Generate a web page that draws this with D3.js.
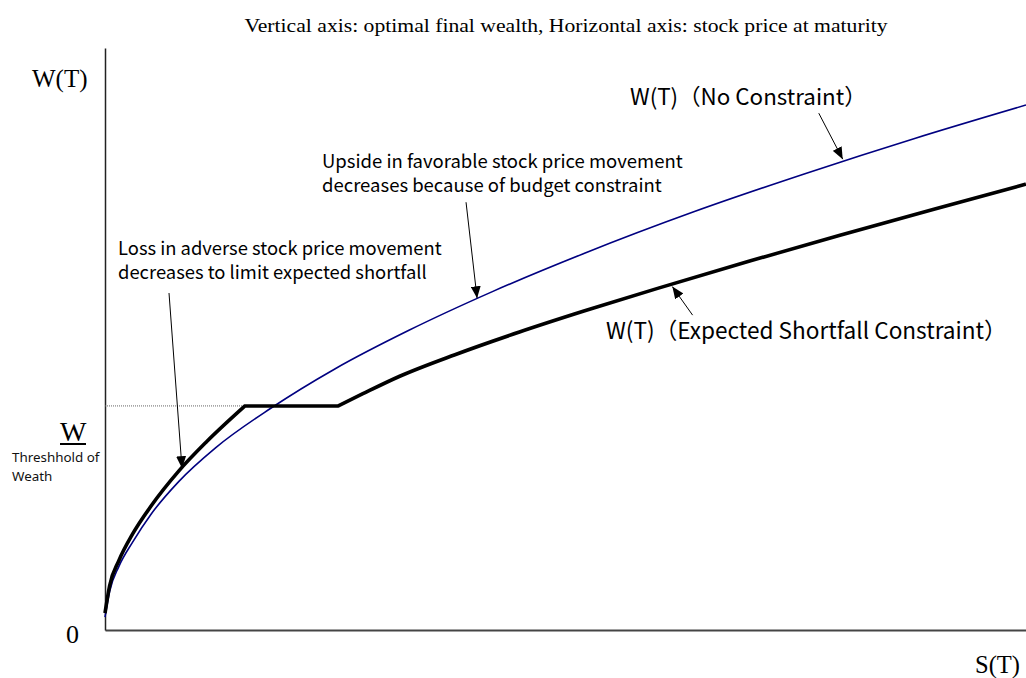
<!DOCTYPE html>
<html>
<head>
<meta charset="utf-8">
<script src="https://cdn.jsdelivr.net/npm/d3@7"></script>
<style>
  html, body { margin: 0; padding: 0; background: #fff; }
  svg { display: block; }
</style>
</head>
<body>
<div id="container"></div>
<script>
// stock price at maturity S(T) on 0..100, wealth W(T) on 0..100 (no units, it is a sketch)
const blueS = [0, 0.5, 1.5, 3, 5, 8, 12, 18, 25, 33, 42, 52, 64, 76, 88, 100]
const blueW = [2.2, 6.6, 10.9, 15.1, 19.9, 25.5, 31.3, 38.1, 44.9, 51.5, 58.1, 64.7, 71.9, 78.4, 84.5, 90.2]

// expected shortfall constraint: rises, sits on the threshold, rises again
const blackLeftS = [0, 0.5, 1.5, 3, 5, 8, 11, 15.2]
const blackLeftW = [2.9, 7.6, 11.9, 16.5, 21.3, 27.3, 32.3, 38.5]
const blackFlatS = [15.2, 25.3]
const blackFlatW = [38.5, 38.5]
const blackRightS = [25.3, 28, 32, 38, 45, 52, 60, 70, 80, 90, 100]
const blackRightW = [38.5, 40.6, 43.6, 47.3, 51.2, 54.8, 58.7, 63.4, 67.9, 72.3, 76.6]

const thresholdW = 38.5

// arrows: [fromS, fromW, toS, toW]
const arrows = [
  [77.5, 88.8, 80.1, 80.9],
  [39.2, 73.5, 40.4, 57.0],
  [6.95, 57.9, 8.36, 27.8],
  [63.8, 54.1, 61.6, 59.0]
]

const labelLines = [
  ['W(T)（No Constraint）'],
  ['Upside in favorable stock price movement', 'decreases because of budget constraint'],
  ['Loss in adverse stock price movement', 'decreases to limit expected shortfall'],
  ['W(T)（Expected Shortfall Constraint）']
]
// label anchor [S, W] of first baseline
const labelPos = [[57.0, 90.2], [23.56, 79.4], [1.41, 64.4], [54.4, 50.0]]
const labelSize = [22.4, 18.5, 18.4, 22.6]

const title = 'Vertical axis: optimal final wealth,  Horizontal axis: stock price at maturity'

const width = 1026
const height = 678

let svg = d3.select('#container')
  .append('svg')
  .attr('xmlns', 'http://www.w3.org/2000/svg')
  .attr('width', width)
  .attr('height', height)

let x = d3.scaleLinear().domain([0, 100]).range([105, 1026])
let y = d3.scaleLinear().domain([0, 100]).range([630, 48])

svg.append('defs').append('marker')
  .attr('id', 'head')
  .attr('markerUnits', 'userSpaceOnUse')
  .attr('viewBox', '0 0 12 10')
  .attr('refX', 12)
  .attr('refY', 5)
  .attr('markerWidth', 12)
  .attr('markerHeight', 10)
  .attr('orient', 'auto')
  .append('path')
  .attr('d', 'M0,0L12,5L0,10Z')
  .attr('fill', '#000')

// axes, no ticks
let xAxis = svg.append('g')
  .attr('transform', `translate(0,${y(0)})`)
  .call(d3.axisBottom(x).ticks(0).tickSizeOuter(0))
let yAxis = svg.append('g')
  .attr('transform', `translate(${x(0)},0)`)
  .call(d3.axisLeft(y).ticks(0).tickSizeOuter(0))
xAxis.select('.domain').attr('stroke', '#444').attr('stroke-width', 2)
yAxis.select('.domain').attr('stroke', '#222').attr('stroke-width', 1.5)

// threshold guide
svg.append('line')
  .attr('x1', x(0)).attr('x2', x(blackFlatS[0]))
  .attr('y1', y(thresholdW)).attr('y2', y(thresholdW))
  .attr('stroke', '#666')
  .attr('stroke-width', 1)
  .attr('stroke-dasharray', '1,1')

let line = d3.line()
  .x(d => x(d[0]))
  .y(d => y(d[1]))
  .curve(d3.curveMonotoneX)

svg.append('path')
  .datum(d3.zip(blueS, blueW))
  .attr('d', line)
  .attr('fill', 'none')
  .attr('stroke', '#000080')
  .attr('stroke-width', 1.6)

// three pieces joined into one path so the corners stay sharp
let pieces = [
  d3.zip(blackLeftS, blackLeftW),
  d3.zip(blackFlatS, blackFlatW),
  d3.zip(blackRightS, blackRightW)
].map(seg => line(seg))
let blackPath = pieces[0] + pieces.slice(1).map(p => 'L' + p.slice(1)).join('')

svg.append('path')
  .attr('d', blackPath)
  .attr('fill', 'none')
  .attr('stroke', '#000')
  .attr('stroke-width', 3.6)
  .attr('stroke-linejoin', 'miter')

// arrows
svg.selectAll('.arrow')
  .data(arrows)
  .enter().append('line')
  .attr('class', 'arrow')
  .attr('x1', d => x(d[0])).attr('y1', d => y(d[1]))
  .attr('x2', d => x(d[2])).attr('y2', d => y(d[3]))
  .attr('stroke', '#000')
  .attr('stroke-width', 1)
  .attr('marker-end', 'url(#head)')

// annotation texts
svg.selectAll('.note')
  .data(labelLines)
  .enter().append('text')
  .attr('class', 'note')
  .attr('font-family', '"Noto Sans CJK JP", "Noto Sans", sans-serif')
  .attr('font-size', (d, i) => labelSize[i])
  .attr('fill', '#000')
  .each(function (d, i) {
    let t = d3.select(this)
    d.forEach((s, j) => {
      t.append('tspan')
        .attr('x', x(labelPos[i][0]))
        .attr('y', y(labelPos[i][1]) + j * 24)
        .text(s)
    })
  })

// serif labels
let serif = '"Liberation Serif", "Times New Roman", serif'
svg.append('text')
  .attr('x', 566).attr('y', 32)
  .attr('text-anchor', 'middle')
  .attr('font-family', serif)
  .attr('font-size', 19)
  .attr('textLength', 643)
  .attr('lengthAdjust', 'spacingAndGlyphs')
  .text(title)

svg.append('text')
  .attr('x', 32).attr('y', 87)
  .attr('font-family', serif)
  .attr('font-size', 25)
  .text('W(T)')

svg.append('text')
  .attr('x', 66).attr('y', 643)
  .attr('font-family', serif)
  .attr('font-size', 26)
  .text('0')

svg.append('text')
  .attr('x', 975).attr('y', 673)
  .attr('font-family', serif)
  .attr('font-size', 24.5)
  .text('S(T)')

// threshold W with underline
svg.append('text')
  .attr('x', 60).attr('y', 441)
  .attr('font-family', serif)
  .attr('font-size', 28)
  .text('W')
svg.append('line')
  .attr('x1', 60).attr('x2', 86)
  .attr('y1', 444).attr('y2', 444)
  .attr('stroke', '#000')
  .attr('stroke-width', 2)

svg.selectAll('.thr')
  .data(['Threshhold of', 'Weath'])
  .enter().append('text')
  .attr('class', 'thr')
  .attr('font-family', '"Noto Sans", sans-serif')
  .attr('font-size', 13.4)
  .attr('fill', '#111')
  .attr('x', 12)
  .attr('y', (d, i) => 462 + i * 19)
  .text(d => d)
</script>
</body>
</html>
